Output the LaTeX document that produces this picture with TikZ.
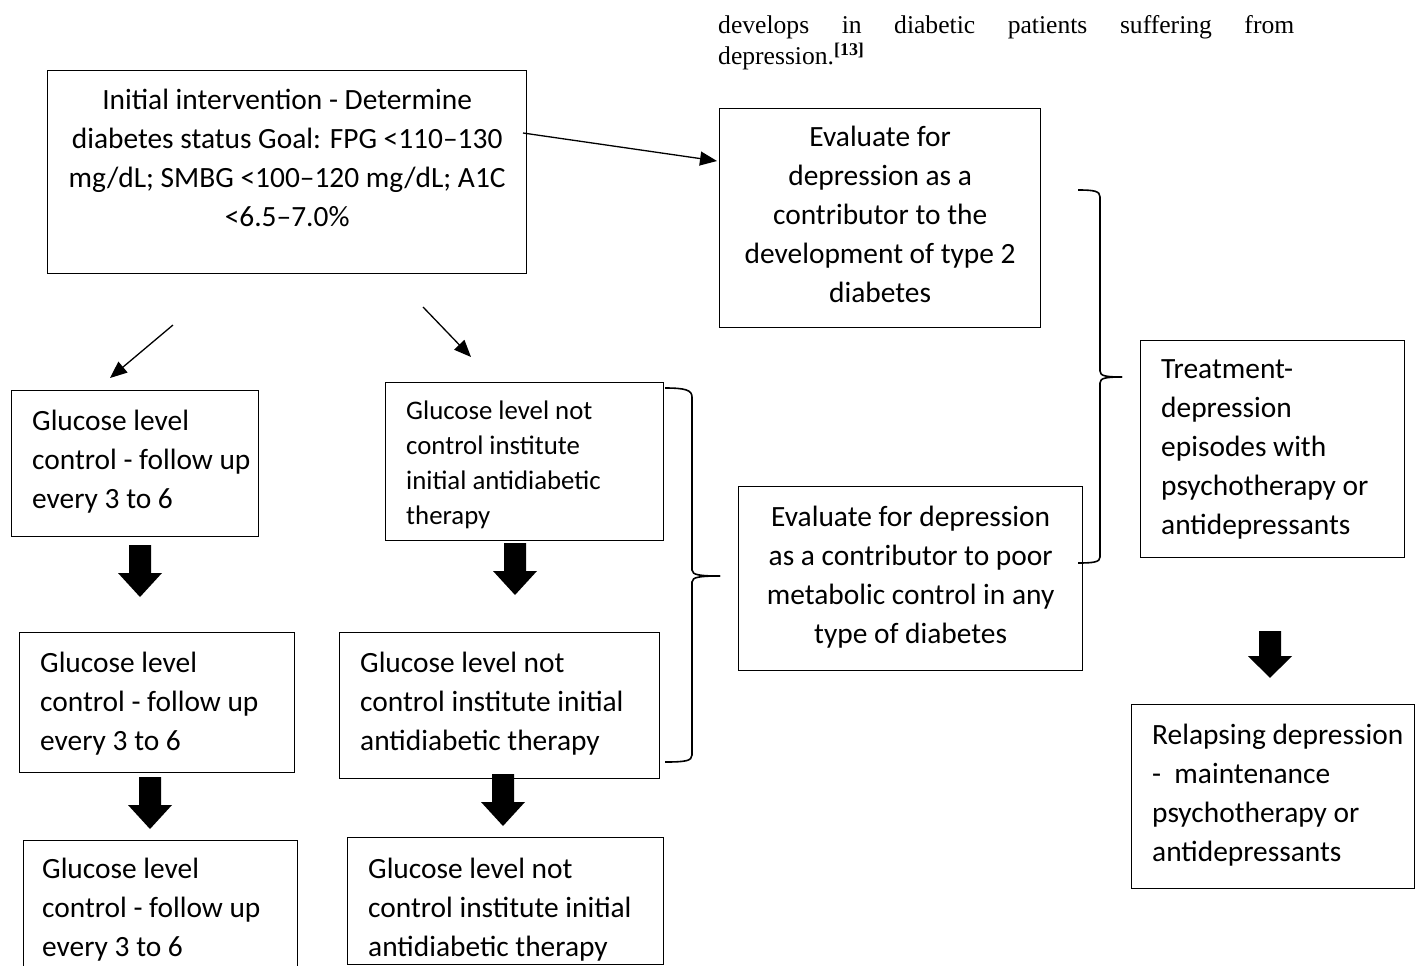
\documentclass[tikz,border=0pt]{standalone}
\usepackage{fontspec}
\setmainfont{Carlito}
\newfontfamily\timesfont{Liberation Serif}
\usetikzlibrary{arrows.meta,calc}
\begin{document}
\begin{tikzpicture}[x=1pt,y=-1pt,
 box/.style={draw,line width=1.3pt,inner sep=0pt,anchor=north west},
 txt/.style={inner sep=0pt,font=\fontsize{29.4}{39}\selectfont},
 txtl/.style={txt,align=left,anchor=north west},
 txtc/.style={txt,align=center,anchor=north},
 small/.style={inner sep=0pt,font=\fontsize{26.8}{35}\selectfont,align=left,anchor=north west},
 thinarrow/.style={line width=1.3pt,-{Triangle[length=17pt,width=14pt]}},
 bracepath/.style={line width=1.6pt},
 barrow/.pic={\fill (-11,0) -- (11,0) -- (11,28) -- (22,28) -- (0,52) -- (-22,28) -- (-11,28) -- cycle;}
]
\useasboundingbox (0,0) rectangle (1416,966);
\fill[white] (0,0) rectangle (1416,966);

% paragraph
\node[anchor=north west,inner sep=0pt,text width=576pt,align=justify,
  font=\timesfont\fontsize{25.6}{31}\selectfont] (para) at (718,15)
  {develops in diabetic patients suffering from\linebreak depression.\textsuperscript{\textbf{[13]}}};

% boxes
\node[box,minimum width=479pt,minimum height=203pt] (init) at (47,70) {};
\node[box,minimum width=321pt,minimum height=219pt] (evt) at (719,108) {};
\node[box,minimum width=264pt,minimum height=217pt] (treat) at (1140,340) {};
\node[box,minimum width=344pt,minimum height=184pt] (evb) at (738,486) {};
\node[box,minimum width=283pt,minimum height=184pt] (rel) at (1131,704) {};
\node[box,minimum width=247pt,minimum height=146pt] (l1) at (11,390) {};
\node[box,minimum width=275pt,minimum height=140pt] (l2) at (19,632) {};
\node[box,minimum width=274pt,minimum height=170pt] (l3) at (23,840) {};
\node[box,minimum width=278pt,minimum height=158pt] (m1) at (385,382) {};
\node[box,minimum width=320pt,minimum height=146pt] (m2) at (339,632) {};
\node[box,minimum width=316pt,minimum height=127pt] (m3) at (347,837) {};

% texts
\node[txtc] (tinit) at ($(init.north)+(0,19)$) {Initial intervention - Determine\\diabetes status Goal: FPG <110–130\\mg/dL; SMBG <100–120 mg/dL; A1C\\<6.5–7.0\%};
\node[txtc] (tevt) at ($(evt.north)+(0,18)$) {Evaluate for\\depression as a\\contributor to the\\development of type 2\\diabetes};
\node[txtl] (ttreat) at ($(treat.north west)+(21,19)$) {Treatment-\\depression\\episodes with\\psychotherapy or\\antidepressants};
\node[txtc] (tevb) at ($(evb.north)+(0,20)$) {Evaluate for depression\\as a contributor to poor\\metabolic control in any\\type of diabetes};
\node[txtl] (trel) at ($(rel.north west)+(21,20)$) {Relapsing depression\\-\ \ maintenance\\psychotherapy or\\antidepressants};
\node[txtl] (tl1) at ($(l1.north west)+(21,20)$) {Glucose level\\control - follow up\\every 3 to 6};
\node[txtl] (tl2) at ($(l2.north west)+(21,20)$) {Glucose level\\control - follow up\\every 3 to 6};
\node[txtl] (tl3) at ($(l3.north west)+(19,18)$) {Glucose level\\control - follow up\\every 3 to 6};
\node[small] (tm1) at ($(m1.north west)+(21,19)$) {Glucose level not\\control institute\\initial antidiabetic\\therapy};
\node[txtl] (tm2) at ($(m2.north west)+(21,20)$) {Glucose level not\\control institute initial\\antidiabetic therapy};
\node[txtl] (tm3) at ($(m3.north west)+(21,21)$) {Glucose level not\\control institute initial\\antidiabetic therapy};

% thin arrows
\coordinate (a1s) at (523,133); \coordinate (a1e) at (717,161);
\coordinate (a2s) at (173,325); \coordinate (a2e) at (110,378);
\coordinate (a3s) at (423,307); \coordinate (a3e) at (471,357);
\draw[thinarrow] (a1s) -- (a1e);
\draw[thinarrow] (a2s) -- (a2e);
\draw[thinarrow] (a3s) -- (a3e);

% block arrows
\pic at (140,545) {barrow};
\pic at (515,543) {barrow};
\pic at (150,777) {barrow};
\pic at (503,774) {barrow};
\pic[yscale=0.9] at (1270,631) {barrow};

% braces
\draw[bracepath] (665,388) .. controls (685,388) and (692,390) .. (692,397) -- (692,570)
  .. controls (692,575) and (700,576) .. (720,576);
\draw[bracepath] (720,576) .. controls (700,576) and (692,577) .. (692,582) -- (692,755)
  .. controls (692,761) and (685,762) .. (665,762);
\draw[bracepath] (1078,190) .. controls (1094,190) and (1100,191) .. (1100,197) -- (1100,371)
  .. controls (1100,376) and (1106,377) .. (1122,377);
\draw[bracepath] (1122,377) .. controls (1106,377) and (1100,378) .. (1100,383) -- (1100,557)
  .. controls (1100,562) and (1094,563) .. (1078,563);
\end{tikzpicture}
\end{document}
